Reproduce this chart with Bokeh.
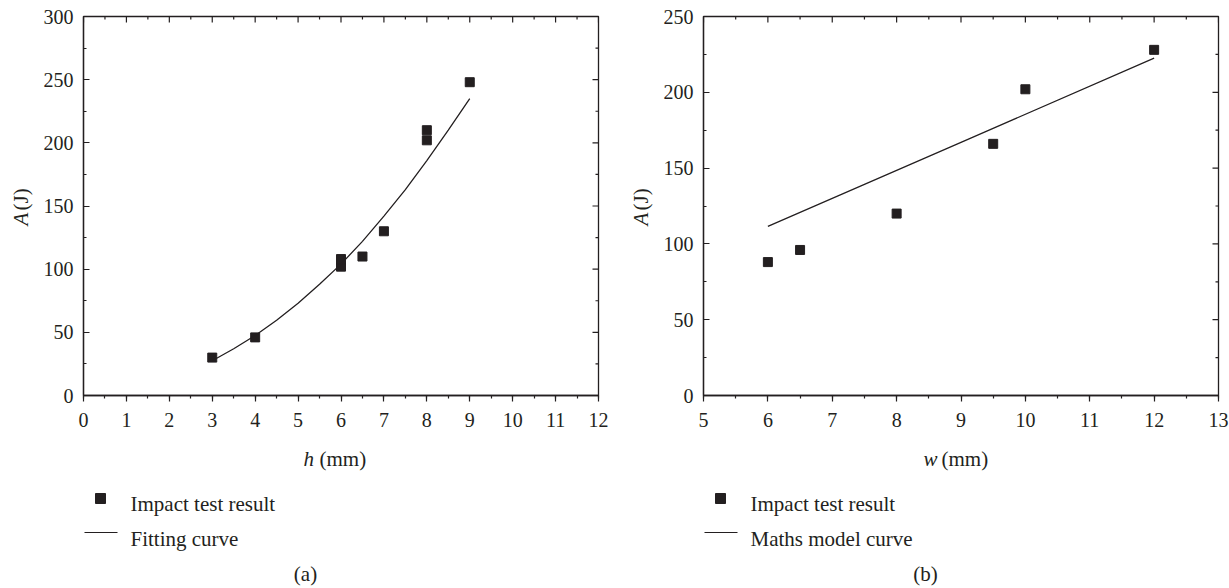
import math
from bokeh.plotting import figure
from bokeh.models import Range1d, LinearAxis, SingleIntervalTicker
from bokeh.layouts import row, column
from bokeh.core.properties import value
from bokeh.embed import file_html
from bokeh.resources import INLINE

# ---------------- data ----------------
h_mm = [3, 4, 6, 6, 6.5, 7, 8, 8, 9]
A_h = [30, 46, 102, 108, 110, 130, 202, 210, 248]
h_fit = [3, 3.5, 4, 4.5, 5, 5.5, 6, 6.5, 7, 7.5, 8, 8.5, 9]
A_h_fit = [27.5, 37, 47.5, 59.5, 73, 88, 104, 122, 142, 163, 186, 210, 235]

w_mm = [6, 6.5, 8, 9.5, 10, 12]
A_w = [88, 96, 120, 166, 202, 228]
w_model = [6, 9, 12]
A_w_model = [111.5, 167, 222.5]

x_ticks_a = [0, 1, 2, 3, 4, 5, 6, 7, 8, 9, 10, 11, 12]
y_ticks_a = [0, 50, 100, 150, 200, 250, 300]
x_ticks_b = [5, 6, 7, 8, 9, 10, 11, 12, 13]
y_ticks_b = [0, 50, 100, 150, 200, 250]

legend_a = ["Impact test result", "Fitting curve"]
legend_b = ["Impact test result", "Maths model curve"]
x_title_a = ["h", "(mm)"]
x_title_b = ["w", "(mm)"]
y_title = ["A", "(J)"]
captions = ["(a)", "(b)"]

INK = "#231f20"
FONT = "Liberation Serif"
TOP_H = 440
BOT_H = 148
B_TOP, B_BOT = 16, 45
FW, FH = 515, 379
TXT = "21px"


def style_axis(ax, side, ticks):
    ax.ticker = SingleIntervalTicker(interval=ticks[1] - ticks[0], num_minor_ticks=2)
    ax.axis_line_color = INK
    ax.axis_line_width = 1.3
    ax.major_tick_line_color = INK
    ax.minor_tick_line_color = INK
    ax.major_tick_line_width = 1.2
    ax.minor_tick_line_width = 1.2
    if side == "below":
        ax.major_tick_in, ax.major_tick_out = 0, 6
        ax.minor_tick_in, ax.minor_tick_out = 0, 3
        ax.major_label_standoff = 11
    else:
        ax.major_tick_in, ax.major_tick_out = 6, 0
        ax.minor_tick_in, ax.minor_tick_out = 3, 0
        ax.major_label_standoff = 10
    ax.major_label_text_font = FONT
    ax.major_label_text_color = INK
    ax.major_label_text_font_size = "20px"


def make_top(xt, yt, width, bl, br):
    xr = (xt[0], xt[-1])
    yr = (yt[0], yt[-1])
    p = figure(width=width, height=TOP_H, x_range=Range1d(*xr), y_range=Range1d(*yr),
               output_backend="svg", toolbar_location=None, tools="",
               min_border_left=bl, min_border_right=br,
               min_border_top=B_TOP, min_border_bottom=B_BOT,
               x_axis_location=None, y_axis_location=None)
    p.xgrid.visible = False
    p.ygrid.visible = False
    p.outline_line_color = INK
    p.outline_line_width = 1.3
    p.background_fill_color = "white"
    p.border_fill_color = "white"
    ax = LinearAxis()
    style_axis(ax, "below", xt)
    p.add_layout(ax, "below")
    ay = LinearAxis()
    style_axis(ay, "left", yt)
    p.add_layout(ay, "left")

    # inward ticks on the top and right spines
    kx = (xr[1] - xr[0]) / FW
    ky = (yr[1] - yr[0]) / FH
    dx = xt[1] - xt[0]
    dy = yt[1] - yt[0]
    x_minor = [t + dx / 2 for t in xt[:-1]]
    y_minor = [t + dy / 2 for t in yt[:-1]]
    for ticks, ln in ((xt, 6), (x_minor, 3)):
        p.segment(x0=ticks, y0=[yr[1]] * len(ticks), x1=ticks,
                  y1=[yr[1] - ln * ky] * len(ticks), line_color=INK, line_width=1.2)
    for ticks, ln in ((yt, 6), (y_minor, 3)):
        p.segment(x0=[xr[1]] * len(ticks), y0=ticks, x1=[xr[1] - ln * kx] * len(ticks),
                  y1=ticks, line_color=INK, line_width=1.2)
    return p


def make_ytitle(x_left, width, x_center):
    t = figure(width=width, height=TOP_H, x_range=Range1d(x_left, x_left + width),
               y_range=Range1d(-(B_TOP + FH), -B_TOP),
               output_backend="svg", toolbar_location=None, tools="",
               min_border_left=0, min_border_right=0,
               min_border_top=B_TOP, min_border_bottom=B_BOT,
               x_axis_location=None, y_axis_location=None)
    t.outline_line_color = None
    t.xgrid.visible = False
    t.ygrid.visible = False
    t.text(x=[x_center], y=[-225], text=[y_title[0]], angle=math.pi / 2,
           text_font=value(FONT), text_font_size=TXT, text_font_style="italic",
           text_color=INK, text_align="left", text_baseline="middle")
    t.text(x=[x_center], y=[-210], text=[y_title[1]], angle=math.pi / 2,
           text_font=value(FONT), text_font_size=TXT,
           text_color=INK, text_align="left", text_baseline="middle")
    return t


def make_bottom(width, bl, br, frame_left, off, x_title, x_gap, labels, caption):
    b = figure(width=width, height=BOT_H,
               x_range=Range1d(frame_left, frame_left + FW),
               y_range=Range1d(TOP_H + BOT_H, TOP_H),
               output_backend="svg", toolbar_location=None, tools="",
               min_border_left=bl, min_border_right=br, min_border_top=0, min_border_bottom=0,
               x_axis_location=None, y_axis_location=None)
    b.outline_line_color = None
    b.xgrid.visible = False
    b.ygrid.visible = False
    # x-axis title: italic variable, upright unit
    b.text(x=[303 + off], y=[458], text=[x_title[0]], text_font=value(FONT),
           text_font_size=TXT, text_font_style="italic", text_color=INK,
           text_align="left", text_baseline="alphabetic")
    b.text(x=[303 + off + x_gap], y=[458], text=[x_title[1]],
           text_font=value(FONT), text_font_size=TXT, text_color=INK,
           text_align="left", text_baseline="alphabetic")
    # legend
    b.scatter(x=[100 + off], y=[498], marker="square", size=10,
              fill_color=INK, line_color=INK)
    b.line(x=[84 + off, 117 + off], y=[532, 532], line_color=INK, line_width=1.2)
    b.text(x=[130 + off, 130 + off], y=[503, 538], text=labels, text_font=value(FONT),
           text_font_size=TXT, text_color=INK, text_align="left", text_baseline="alphabetic")
    # caption
    b.text(x=[305 + off], y=[573], text=[caption], text_font=value(FONT),
           text_font_size=TXT, text_color=INK, text_align="center", text_baseline="middle")
    return b


# panel (a)
ta = make_ytitle(0, 35, 20)
pa = make_top(x_ticks_a, y_ticks_a, 575, 48, 12)
pa.scatter(h_mm, A_h, marker="square", size=9, fill_color=INK, line_color=INK)
pa.line(h_fit, A_h_fit, line_color=INK, line_width=1.3)
ba = make_bottom(575, 48, 12, 83, 0, x_title_a, 16, legend_a, captions[0])

# panel (b)
tb = make_ytitle(610, 45, 640)
pb = make_top(x_ticks_b, y_ticks_b, 574, 48, 11)
pb.scatter(w_mm, A_w, marker="square", size=9, fill_color=INK, line_color=INK)
pb.line(w_model, A_w_model, line_color=INK, line_width=1.3)
bb = make_bottom(574, 48, 11, 703, 620, x_title_b, 18, legend_b, captions[1])

layout = row(ta, column(pa, ba), tb, column(pb, bb))

with open("out.html", "w") as f:
    f.write(file_html(layout, INLINE))
